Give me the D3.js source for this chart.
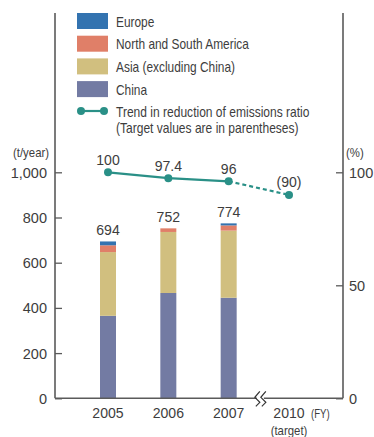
<!DOCTYPE html>
<html><head><meta charset="utf-8">
<script src="https://cdn.jsdelivr.net/npm/d3@7/dist/d3.min.js"></script>
<style>
html,body{margin:0;padding:0;background:#fff;}
svg{display:block;font-family:"Liberation Sans",Arial,sans-serif;}
</style></head>
<body>
<svg id="c" width="374" height="437"></svg>
<script>
const years = ["2005","2006","2007","2010"];
const barYears = ["2005","2006","2007"];
const china = [365, 466, 445];
const asia = [282, 270, 297];
const america = [30, 16, 23];
const europe = [17, 0, 9];
const totals = [694, 752, 774];
const ratio = [100, 97.4, 96, 90];
const ratioLabels = ["100", "97.4", "96", "(90)"];
const leftTicks = [0, 200, 400, 600, 800, 1000];
const rightTicks = [0, 50, 100];
const seriesNames = ["Europe", "North and South America", "Asia (excluding China)", "China"];
const seriesColors = ["#3373b0", "#e07f68", "#d1bf7f", "#737ba3"];
const lineColor = "#2a9087";

const svg = d3.select("#c");
const axisColor = "#5a5a5a";
const textColor = "#3d3d3d";

function txt(parent, x, y, s, size, anchor, sx) {
  return parent.append("text")
    .attr("transform", `translate(${x},${y}) scale(${sx || 1},1)`)
    .attr("text-anchor", anchor || "start")
    .attr("font-size", size).attr("fill", textColor).text(s);
}

const x = d3.scalePoint().domain(years).range([108, 289]);
const yL = d3.scaleLinear().domain([0, 1000]).range([398.3, 172.3]);
const yR = d3.scaleLinear().domain([0, 100]).range([398.3, 172.3]);
const bw = 16;

// stacked bars
const rows = barYears.map((yr, i) => ({year: yr, China: china[i], Asia: asia[i], America: america[i], Europe: europe[i]}));
const keys = ["China", "Asia", "America", "Europe"];
const colorMap = {China: seriesColors[3], Asia: seriesColors[2], America: seriesColors[1], Europe: seriesColors[0]};
const stack = d3.stack().keys(keys)(rows);
svg.append("g").selectAll("g").data(stack).join("g")
  .attr("fill", d => colorMap[d.key])
  .selectAll("rect").data(d => d).join("rect")
  .attr("x", d => x(d.data.year) - bw/2)
  .attr("width", bw)
  .attr("y", d => yL(d[1]))
  .attr("height", d => yL(d[0]) - yL(d[1]));

// totals
const tg = svg.append("g");
barYears.forEach((yr, i) => txt(tg, x(yr), yL(totals[i]) - 6.5, totals[i], 14.5, "middle", 0.97));

// axes
const gL = svg.append("g").attr("transform", "translate(55,0)")
  .call(d3.axisRight(yL).tickValues(leftTicks).tickSize(7).tickFormat(d3.format(",")));
gL.selectAll("text").attr("x", -8).attr("text-anchor", "end");
const gR = svg.append("g").attr("transform", "translate(343,0)")
  .call(d3.axisLeft(yR).tickValues(rightTicks).tickSize(7));
gR.selectAll("text").attr("x", 6).attr("text-anchor", "start");
[gL, gR].forEach(g => {
  g.select(".domain").remove();
  g.selectAll("line").attr("stroke", axisColor).attr("stroke-width", 1.3);
  g.selectAll("text").attr("font-size", 14.5).attr("fill", textColor).attr("font-family", null).attr("dy", "0.35em");
});
// axis lines
svg.append("line").attr("x1", 55).attr("x2", 55).attr("y1", 13).attr("y2", yL(0)).attr("stroke", axisColor).attr("stroke-width", 1.6);
svg.append("line").attr("x1", 343).attr("x2", 343).attr("y1", 13).attr("y2", yL(0)).attr("stroke", axisColor).attr("stroke-width", 1.6);
svg.append("line").attr("x1", 55).attr("x2", 343).attr("y1", yL(0)).attr("y2", yL(0)).attr("stroke", axisColor).attr("stroke-width", 1.6);

// break mark
const bx = (x("2007") + x("2010")) / 2 + 2, by = yL(0);
svg.append("rect").attr("x", bx - 4).attr("y", by - 2).attr("width", 7).attr("height", 4).attr("fill", "#fff");
[0, 6].forEach(o => {
  svg.append("path").attr("d", `M${bx - 1 + o},${by - 7} L${bx - 6 + o},${by - 1} L${bx - 1 + o},${by + 4} L${bx - 5 + o},${by + 8}`)
    .attr("fill", "none").attr("stroke", "#333").attr("stroke-width", 1.2);
});

// axis titles
txt(svg, 13, 157, "(t/year)", 12, "start", 0.95);
txt(svg, 346, 157, "(%)", 12, "start", 0.95);

// x labels
const xg = svg.append("g");
years.forEach(yr => txt(xg, x(yr), 418, yr, 14.5, "middle", 0.97));
txt(svg, x("2010") + 22, 418, "(FY)", 12, "start", 0.8);
txt(svg, x("2010"), 435, "(target)", 12, "middle", 0.95);

// line
const pts = years.map((yr, i) => [x(yr), yR(ratio[i])]);
const line = d3.line();
svg.append("path").attr("d", line(pts.slice(0, 3))).attr("fill", "none").attr("stroke", lineColor).attr("stroke-width", 2.2);
svg.append("path").attr("d", line(pts.slice(2))).attr("fill", "none").attr("stroke", lineColor).attr("stroke-width", 2.2).attr("stroke-dasharray", "4,3");
svg.append("g").selectAll("circle").data(pts).join("circle")
  .attr("cx", d => d[0]).attr("cy", d => d[1]).attr("r", 4).attr("fill", lineColor);
const lbg = svg.append("g");
pts.forEach((p, i) => txt(lbg, p[0], p[1] - 7.5, ratioLabels[i], 14.5, "middle", 0.97));

// legend
const lg = svg.append("g");
seriesNames.forEach((n, i) => {
  const yy = 13 + i * 22.7;
  lg.append("rect").attr("x", 77).attr("y", yy).attr("width", 31).attr("height", 16).attr("fill", seriesColors[i]);
  txt(lg, 116, yy + 13.5, n, 14, "start", 0.85);
});
lg.append("line").attr("x1", 81).attr("x2", 104).attr("y1", 111).attr("y2", 111).attr("stroke", lineColor).attr("stroke-width", 2.2);
[81, 104].forEach(cx => lg.append("circle").attr("cx", cx).attr("cy", 111).attr("r", 4).attr("fill", lineColor));
txt(lg, 116, 117, "Trend in reduction of emissions ratio", 14, "start", 0.86);
txt(lg, 116, 133, "(Target values are in parentheses)", 14, "start", 0.86);
</script>
</body></html>
